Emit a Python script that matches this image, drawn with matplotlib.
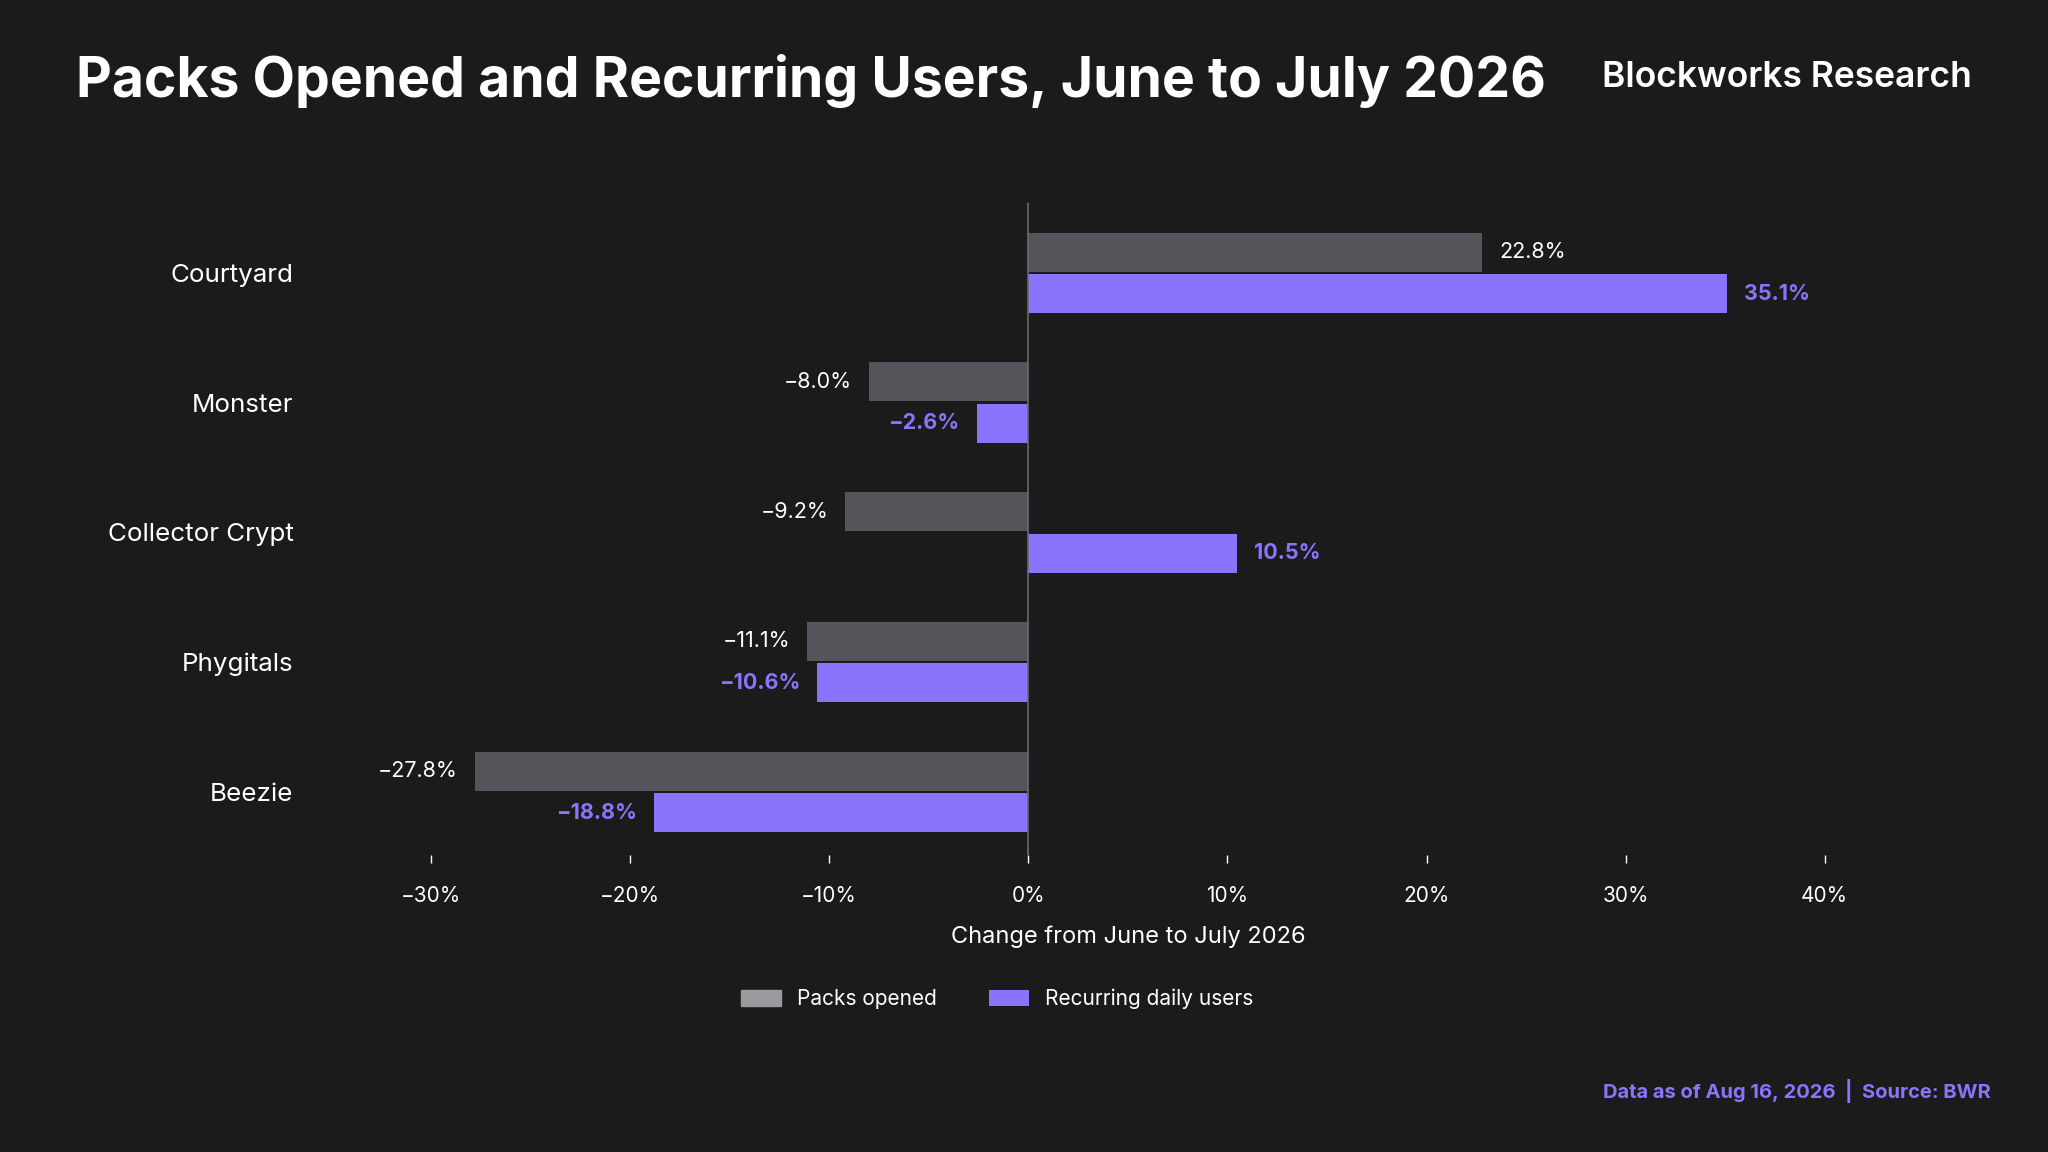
import matplotlib
matplotlib.use("Agg")
import matplotlib.pyplot as plt
import numpy as np

categories = ["Courtyard", "Monster", "Collector Crypt", "Phygitals", "Beezie"]
packs_opened = [22.8, -8.0, -9.2, -11.1, -27.8]
recurring_users = [35.1, -2.6, 10.5, -10.6, -18.8]
xticks = [-30, -20, -10, 0, 10, 20, 30, 40]

BG = "#1b1b1b"; GRAY = "#55545a"; PURPLE = "#8b74fd"
plt.rcParams['font.family'] = ['Inter', 'DejaVu Sans']

fig = plt.figure(figsize=(20.48, 11.52), dpi=100, facecolor=BG)
ax = fig.add_axes([0.2105, 0.2574, 0.6805, 0.5666], facecolor=BG)
y = np.arange(len(categories))
h = 0.30; off = 0.16
ax.barh(y - off, packs_opened, height=h, color=GRAY, label="Packs opened")
ax.barh(y + off, recurring_users, height=h, color=PURPLE, label="Recurring daily users")
ax.set_xlim(-30, 40)
ax.set_ylim(4.49, -0.54)
ax.axvline(0, color="#6a6a6a", lw=1.2)
for i, v in enumerate(packs_opened):
    s = f"{v:.1f}%".replace("-", "\u2212")
    ax.text(v + (0.85 if v > 0 else -0.85), i - off, s, color="white", fontsize=15.5,
            ha="left" if v > 0 else "right", va="center")
for i, v in enumerate(recurring_users):
    s = f"{v:.1f}%".replace("-", "\u2212")
    ax.text(v + (0.85 if v > 0 else -0.85), i + off, s, color=PURPLE, fontsize=15.5, fontweight="bold",
            ha="left" if v > 0 else "right", va="center")
ax.set_yticks(y)
ax.set_yticklabels(categories, color="white", fontsize=18.7)
ax.tick_params(axis="y", length=0, pad=99)
ax.set_xticks(xticks)
ax.set_xticklabels([f"{t}%".replace("-", "\u2212") for t in xticks], color="white", fontsize=15)
ax.tick_params(axis="x", colors="white", length=6, width=1, pad=16, labelcolor="white")
for s in ax.spines.values():
    s.set_visible(False)
ax.set_xlabel("Change from June to July 2026", color="white", fontsize=17, labelpad=14)
leg = fig.legend(loc="center", bbox_to_anchor=(0.487, 0.133), ncol=2, frameon=False,
                 fontsize=15, labelcolor="white", handlelength=1.9, handleheight=0.8, columnspacing=2.5)
leg.legend_handles[0].set_color("#9a9a9e")
fig.text(0.037, 0.93, "Packs Opened and Recurring Users, June to July 2026", color="white",
         fontsize=39.8, fontweight="bold", va="center")
fig.text(0.963, 0.933, "Blockworks Research", color="white", fontsize=25.5, fontweight="semibold",
         ha="right", va="center")
fig.text(0.972, 0.053, "Data as of Aug 16, 2026  |  Source: BWR", color=PURPLE, fontsize=14.5,
         fontweight="bold", ha="right", va="center")
fig.savefig("out.png", dpi=100, facecolor=BG)
